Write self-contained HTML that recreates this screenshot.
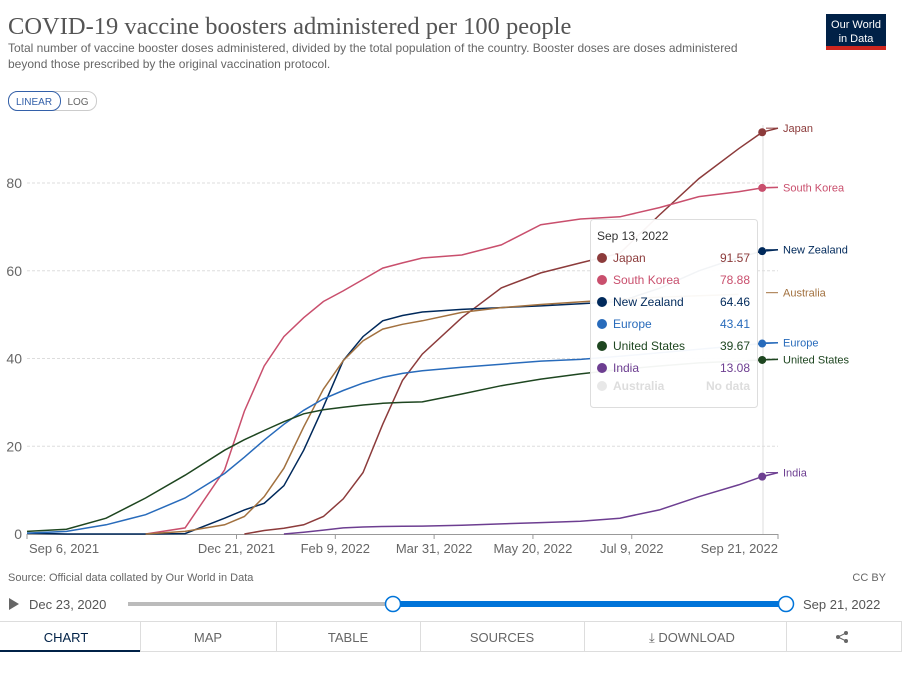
<!DOCTYPE html>
<html><head><meta charset="utf-8"><style>
body{margin:0;background:#fff;width:916px;height:680px;overflow:hidden;font-family:"Liberation Sans",sans-serif}
svg text{font-family:"Liberation Sans",sans-serif}
</style></head><body>
<svg id="chart" width="916" height="680" viewBox="0 0 916 680" xmlns="http://www.w3.org/2000/svg">
<text x="8" y="34" style="font-family:'Liberation Serif',serif" font-size="24.5" fill="#555">COVID-19 vaccine boosters administered per 100 people</text>
<text x="8" y="52" font-size="12" fill="#666">Total number of vaccine booster doses administered, divided by the total population of the country. Booster doses are doses administered</text>
<text x="8" y="68" font-size="12" fill="#666">beyond those prescribed by the original vaccination protocol.</text>
<g><rect x="826" y="14" width="60" height="36" fill="#002147"/><rect x="826" y="46" width="60" height="4" fill="#ce261e"/>
<text x="856" y="28" font-size="11" fill="#fff" text-anchor="middle">Our World</text><text x="856" y="42" font-size="11" fill="#fff" text-anchor="middle">in Data</text></g>
<g><rect x="8.5" y="91.5" width="88" height="19" rx="9" fill="#fff" stroke="#ccc"/>
<rect x="8.5" y="91.5" width="52" height="19" rx="9" fill="#fff" stroke="#3360a9"/>
<text x="34" y="105" font-size="10" fill="#3360a9" text-anchor="middle">LINEAR</text>
<text x="78" y="105" font-size="10" fill="#666" text-anchor="middle">LOG</text></g>
<g id="grid"></g><g id="axes"></g><g id="lines"></g>
<line x1="763" y1="125" x2="763" y2="534" stroke="#ddd"/>
<g id="dots"></g><g id="labels"></g>
<g>
<rect x="590.5" y="219.5" width="167" height="188" rx="3" fill="#fff" fill-opacity="0.95" stroke="#ddd"/>
<text x="597" y="240" font-size="12" fill="#333">Sep 13, 2022</text>
<g id="tt"></g></g>
<text x="8" y="581" font-size="11" fill="#666">Source: Official data collated by Our World in Data</text>
<text x="886" y="581" font-size="11" fill="#666" text-anchor="end">CC BY</text>
<path d="M9 598 L19 604 L9 610 Z" fill="#666"/>
<text x="29" y="609" font-size="13" fill="#555">Dec 23, 2020</text>
<rect x="128" y="602" width="265" height="4" fill="#bbb"/>
<rect x="393" y="601" width="393" height="6" fill="#0074d9"/>
<circle cx="393" cy="604" r="7.5" fill="#fff" stroke="#0074d9" stroke-width="1.5"/>
<circle cx="786" cy="604" r="7.5" fill="#fff" stroke="#0074d9" stroke-width="1.5"/>
<text x="803" y="609" font-size="13" fill="#555">Sep 21, 2022</text>
<g font-size="13" fill="#666" text-anchor="middle">
<line x1="0" y1="621.5" x2="902" y2="621.5" stroke="#ddd"/>
<line x1="0" y1="651.5" x2="902" y2="651.5" stroke="#ddd"/>
<line x1="0" y1="651" x2="140" y2="651" stroke="#002147" stroke-width="2"/>
<line x1="140.5" y1="622" x2="140.5" y2="652" stroke="#ddd"/><line x1="276.5" y1="622" x2="276.5" y2="652" stroke="#ddd"/><line x1="420.5" y1="622" x2="420.5" y2="652" stroke="#ddd"/><line x1="584.5" y1="622" x2="584.5" y2="652" stroke="#ddd"/><line x1="786.5" y1="622" x2="786.5" y2="652" stroke="#ddd"/><line x1="901.5" y1="622" x2="901.5" y2="652" stroke="#ddd"/>
<text x="66" y="642" fill="#002147">CHART</text>
<text x="208" y="642">MAP</text>
<text x="348" y="642">TABLE</text>
<text x="502" y="642">SOURCES</text>
<text x="692" y="642">⤓ DOWNLOAD</text>
<g fill="#666"><circle cx="838" cy="637" r="2"/><circle cx="846" cy="633" r="2"/><circle cx="846" cy="641" r="2"/><path d="M838 637 L846 633 M838 637 L846 641" stroke="#666"/></g>
</g>
</svg>
<script>
const days=[0,20,40,60,80,100,110,120,130,140,150,160,170,180,190,200,220,240,260,280,300,320,340,360,372,380];
const seriesNames=["Japan","South Korea","New Zealand","Australia","Europe","United States","India"];
const japan=[null,null,null,null,null,null,0,0.8,1.3,2.1,4,8,14,25,35,41,49.3,56.1,59.5,61.8,64,72.7,81,87.8,91.57,92.5];
const southKorea=[null,null,null,0,1.4,14.6,28,38.3,45,49.3,53,55.4,58,60.6,61.8,62.9,63.6,65.9,70.5,71.8,72.3,74.4,76.9,78,78.88,79];
const newZealand=[0.2,0,0,0,0.1,3.6,5.5,7,11,19.1,29,39.5,45,48.6,49.8,50.6,51.2,51.6,52,52.5,53,56,60,63,64.46,64.8];
const australia=[null,null,null,0,0.6,2.1,4,8.5,15,24.4,33,39.5,44,46.7,47.8,48.6,50.5,51.6,52.3,52.9,53.5,54,54.3,54.6,null,null];
const europe=[0.2,0.6,2.1,4.4,8.2,13.8,17.5,21.4,25,28.2,30.8,32.7,34.4,35.7,36.6,37.2,38,38.7,39.4,39.8,40.5,41.3,42.1,42.9,43.41,43.6];
const unitedStates=[0.6,1.1,3.6,8.2,13.4,19.1,21.5,23.6,25.6,27.4,28.3,28.9,29.4,29.8,30,30.1,31.9,33.8,35.3,36.5,37.5,38.3,39,39.4,39.67,39.8];
const india=[null,null,null,null,null,null,null,null,0,0.4,0.9,1.4,1.6,1.7,1.75,1.8,2,2.3,2.6,2.9,3.6,5.5,8.5,11.2,13.08,14];
const colors=["#8c3b3b","#c94f6d","#00295b","#a2713f","#286bbb","#1e4620","#6d3e91"];
const yTicks=[0,20,40,60,80];
const xTickDays=[0,106,156,206,256,306,380];
const xTickLabels=["Sep 6, 2021","Dec 21, 2021","Feb 9, 2022","Mar 31, 2022","May 20, 2022","Jul 9, 2022","Sep 21, 2022"];
const hoverIndex=24;
const tooltipValues=["91.57","78.88","64.46","43.41","39.67","13.08"];
const labelValues=[92.5,79,64.8,55,43.6,39.8,14];
const all=[japan,southKorea,newZealand,australia,europe,unitedStates,india];
const NS="http://www.w3.org/2000/svg";
const X0=27,X1=778,Y0=534,YK=4.3875;
const x=d=>X0+(X1-X0)*d/380;
const y=v=>Y0-v*YK;
function mk(t,a,p){const e=document.createElementNS(NS,t);for(const k in a)e.setAttribute(k,a[k]);p.appendChild(e);return e;}
const grid=document.getElementById('grid'),axes=document.getElementById('axes'),lines=document.getElementById('lines'),dots=document.getElementById('dots'),labels=document.getElementById('labels'),tt=document.getElementById('tt');
yTicks.forEach(v=>{
 if(v>0){const g=mk('line',{x1:X0,x2:X1,y1:y(v),y2:y(v),stroke:'#ddd','stroke-dasharray':'3,2'},grid);
 
 }
 const t=mk('text',{x:22,y:y(v)+5,'font-size':14,fill:'#666','text-anchor':'end'},axes);t.textContent=v;
 
 
});
const ax=mk('line',{x1:X0,x2:X1,y1:Y0+0.5,y2:Y0+0.5,stroke:'#999'},axes);


xTickDays.forEach((d,i)=>{
 const tk=mk('line',{x1:x(d),x2:x(d),y1:Y0,y2:Y0+5,stroke:'#999'},axes);
 
 
 const anchor=i==0?'start':(i==xTickDays.length-1?'end':'middle');
 const t=mk('text',{x:i==0?29:x(d),y:553,'font-size':13,fill:'#666','text-anchor':anchor},axes);t.textContent=xTickLabels[i];
 
 
});
all.forEach((s,si)=>{
 let d='';let pen=false;
 s.forEach((v,i)=>{if(v==null){pen=false;return;}d+=(pen?'L':'M')+x(days[i]).toFixed(1)+' '+y(v).toFixed(1);pen=true;});
 const p=mk('path',{d:d,fill:'none',stroke:colors[si],'stroke-width':1.5},lines);
 
 
 const v=s[hoverIndex];
 if(v!=null){const c=mk('circle',{cx:x(days[hoverIndex]),cy:y(v),r:4,fill:colors[si]},dots);
 
 }
 const ld=mk('line',{x1:766,x2:778,y1:y(labelValues[si]),y2:y(labelValues[si]),stroke:colors[si]},labels);
 
 
 const l=mk('text',{x:783,y:y(labelValues[si])+4,'font-size':11,fill:colors[si]},labels);l.textContent=seriesNames[si];
 
 
});
const ttNames=["Japan","South Korea","New Zealand","Europe","United States","India"];
const ttColorIdx=[0,1,2,4,5,6];
ttNames.forEach((n,i)=>{
 const yy=262+i*22;
 const c=mk('circle',{cx:602,cy:yy-4,r:5,fill:colors[ttColorIdx[i]]},tt);
 
 
 const t=mk('text',{x:613,y:yy,'font-size':12,fill:colors[ttColorIdx[i]]},tt);t.textContent=n;
 
 
 const vv=mk('text',{x:750,y:yy,'font-size':12,fill:colors[ttColorIdx[i]],'text-anchor':'end'},tt);vv.textContent=tooltipValues[i];
 
 
});
const c=mk('circle',{cx:602,cy:386,r:5,fill:'#e8e8e8'},tt);


const at=mk('text',{x:613,y:390,'font-size':12,fill:'#ddd','font-weight':'bold'},tt);at.textContent='Australia';


const an=mk('text',{x:750,y:390,'font-size':12,fill:'#ddd','font-weight':'bold','text-anchor':'end'},tt);an.textContent='No data';


</script>
</body></html>
